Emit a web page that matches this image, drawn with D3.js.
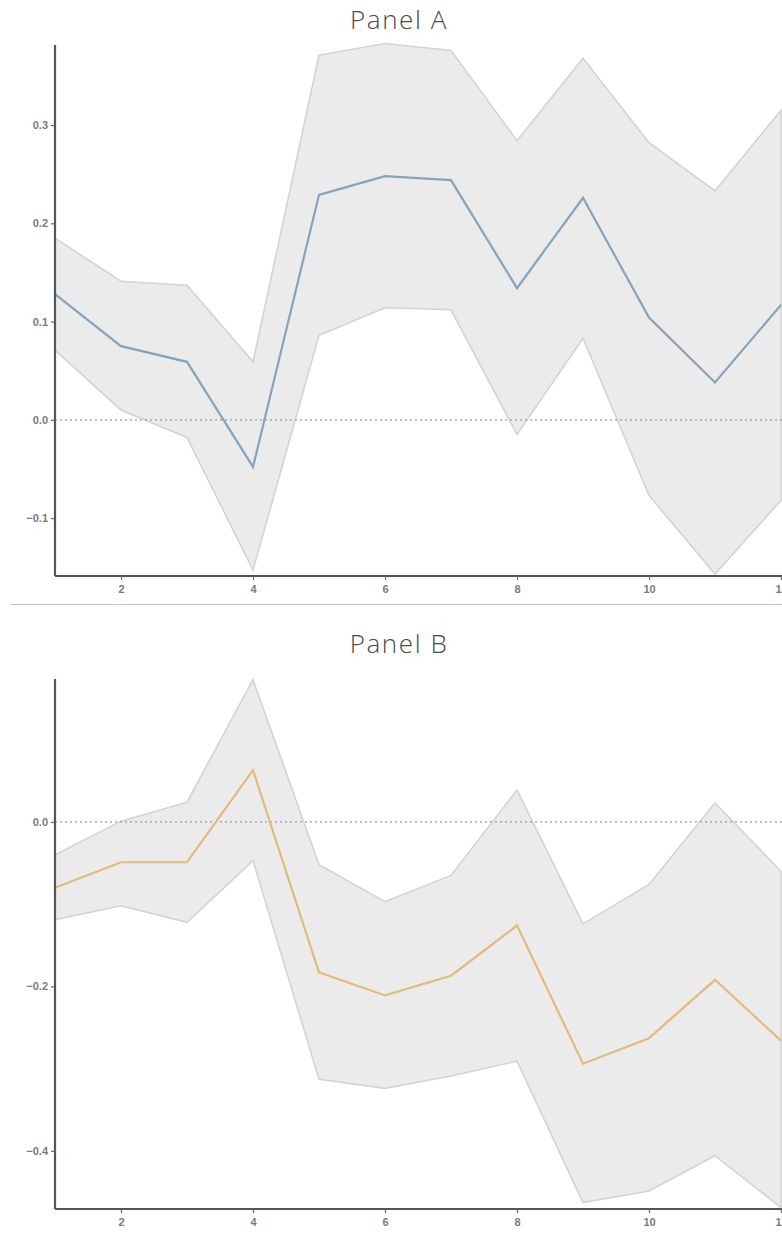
<!DOCTYPE html>
<html>
<head>
<meta charset="utf-8">
<script src="https://cdn.jsdelivr.net/npm/d3@7"></script>
<style>
  html, body { margin: 0; padding: 0; background: #fff; }
  svg { display: block; }
</style>
</head>
<body>
<script>
// Horizon steps (x axis)
const steps = [1, 2, 3, 4, 5, 6, 7, 8, 9, 10, 11, 12];

// Panel A: estimate with lower / upper confidence bounds
const meanA  = [0.128, 0.075, 0.059, -0.048, 0.229, 0.248, 0.244, 0.134, 0.226, 0.104, 0.038, 0.117];
const lowerA = [0.071, 0.010, -0.018, -0.153, 0.086, 0.114, 0.112, -0.015, 0.083, -0.077, -0.157, -0.082];
const upperA = [0.185, 0.141, 0.137, 0.059, 0.371, 0.383, 0.376, 0.284, 0.368, 0.282, 0.233, 0.315];

// Panel B: estimate with lower / upper confidence bounds
const meanB  = [-0.080, -0.049, -0.049, 0.063, -0.183, -0.211, -0.187, -0.126, -0.294, -0.263, -0.192, -0.266];
const lowerB = [-0.119, -0.102, -0.122, -0.047, -0.313, -0.324, -0.309, -0.291, -0.463, -0.449, -0.406, -0.469];
const upperB = [-0.040, 0.001, 0.024, 0.173, -0.052, -0.097, -0.065, 0.039, -0.124, -0.076, 0.023, -0.060];

// Tick labels
const xTicks  = [2, 4, 6, 8, 10, 12];
const yTicksA = [-0.1, 0.0, 0.1, 0.2, 0.3];
const yTicksB = [-0.4, -0.2, 0.0];

const W = 782, H = 1240;
const svg = d3.select("body").append("svg").attr("width", W).attr("height", H);

const fmt = v => d3.format(".1f")(v).replace("-", "\u2212");

function panel(cfg) {
  const g = svg.append("g");
  const x = d3.scaleLinear().domain([1, 12]).range([55, 781]);
  const y = d3.scaleLinear().domain(cfg.yDomain).range([cfg.bottom, cfg.top]);

  // Title
  g.append("text")
    .attr("x", 399).attr("y", cfg.titleY)
    .attr("text-anchor", "middle")
    .attr("font-family", "'Open Sans', Lato, sans-serif")
    .attr("font-weight", 300)
    .attr("font-size", 26)
    .attr("letter-spacing", 1.6)
    .attr("fill", "#4a4a4a")
    .text(cfg.title);

  const rows = steps.map((s, i) => ({ s, m: cfg.mean[i], lo: cfg.lower[i], hi: cfg.upper[i] }));

  // Confidence band
  g.append("path")
    .datum(rows)
    .attr("d", d3.area().x(d => x(d.s)).y0(d => y(d.lo)).y1(d => y(d.hi)))
    .attr("fill", "#ebebeb")
    .attr("stroke", "#d3d3d3")
    .attr("stroke-width", 1.6)
    .attr("stroke-linejoin", "miter");

  // Zero reference line
  g.append("line")
    .attr("x1", x(1)).attr("x2", W)
    .attr("y1", y(0)).attr("y2", y(0))
    .attr("stroke", "#9a9a9a")
    .attr("stroke-width", 1.3)
    .attr("stroke-dasharray", "2,3");

  // Estimate line
  g.append("path")
    .datum(rows)
    .attr("d", d3.line().x(d => x(d.s)).y(d => y(d.m)))
    .attr("fill", "none")
    .attr("stroke", cfg.color)
    .attr("stroke-width", 2.2);

  // Axes
  const yAxis = g.append("g")
    .attr("transform", `translate(${x(1)},0)`)
    .call(d3.axisLeft(y).tickValues(cfg.yTicks).tickFormat(fmt).tickSize(4).tickPadding(3));
  const xAxis = g.append("g")
    .attr("transform", `translate(0,${cfg.bottom})`)
    .call(d3.axisBottom(x).tickValues(xTicks).tickFormat(d3.format("d")).tickSize(4).tickPadding(5));

  [yAxis, xAxis].forEach(a => {
    a.select(".domain").attr("stroke", "#555").attr("stroke-width", 2.2);
    a.selectAll(".tick line").attr("stroke", "#666").attr("stroke-width", 1.2);
    a.selectAll(".tick text")
      .attr("fill", "#7a7a7a")
      .attr("font-family", "'Liberation Sans', Arial, sans-serif")
      .attr("font-weight", "bold")
      .attr("font-size", 11);
  });
  // straight spines without end caps
  yAxis.select(".domain").attr("d", `M0,${cfg.top}V${cfg.bottom}`);
  xAxis.select(".domain").attr("d", `M${x(1)},0H${W}`);
}

panel({
  title: "Panel A", titleY: 29,
  top: 45, bottom: 576, yDomain: [-0.159, 0.3815],
  mean: meanA, lower: lowerA, upper: upperA,
  yTicks: yTicksA, color: "#85a3ba"
});

// Divider between panels
svg.append("line")
  .attr("x1", 10).attr("x2", W)
  .attr("y1", 604.5).attr("y2", 604.5)
  .attr("stroke", "#c4c4c4").attr("stroke-width", 1.2);

panel({
  title: "Panel B", titleY: 653,
  top: 679, bottom: 1209, yDomain: [-0.4708, 0.1739],
  mean: meanB, lower: lowerB, upper: upperB,
  yTicks: yTicksB, color: "#e3ba7c"
});
</script>
</body>
</html>
